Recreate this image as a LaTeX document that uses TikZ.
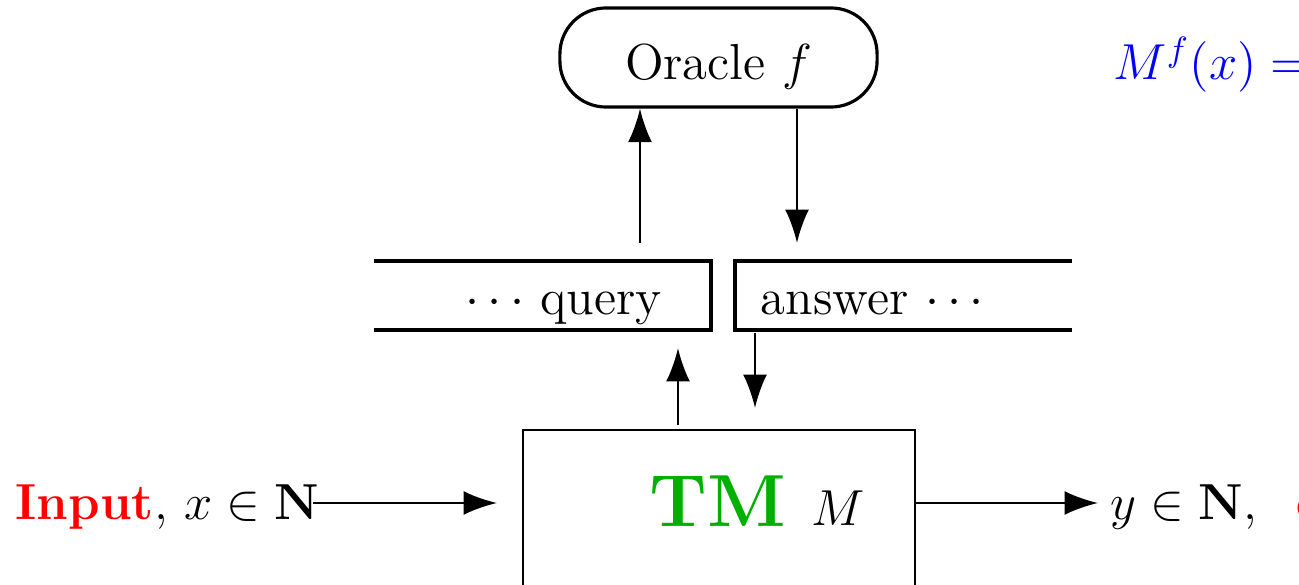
\documentclass[tikz,border=0pt]{standalone}
\usetikzlibrary{arrows.meta}
\definecolor{tmgreen}{RGB}{0,176,0}
\definecolor{inred}{RGB}{255,0,0}
\definecolor{eqblue}{RGB}{0,0,255}
\tikzset{
  arr/.style={line width=0.7pt, -{Latex[length=9.5pt,width=6.8pt]}},
  tape/.style={line width=1.1pt},
  lbl/.style={inner sep=0pt, anchor=base, font=\Large},
  lblw/.style={inner sep=0pt, anchor=base west, font=\Large},
}
\begin{document}
\begin{tikzpicture}[x=0.01cm,y=-0.01cm]
\useasboundingbox (0,0) rectangle (1299,585);
\clip (0,0) rectangle (1299,585);

% oracle
\node[draw, line width=0.9pt, rounded corners=0.46cm, minimum width=3.17cm,
      minimum height=0.99cm, inner sep=0pt, font=\Large, text height=12.6pt, text depth=0pt]
  (oracle) at (718.5,57.5) {Oracle $f$};

% the two tape halves
\draw[tape] (374,261) -- (711,261) -- (711,330) -- (374,330);
\draw[tape] (1072,261) -- (735,261) -- (735,330) -- (1072,330);
\node[lbl] (query) at (563.5,315) {$\cdots$ query};
\node[lbl] (answer) at (872.5,315) {answer $\cdots$};

% the machine
\node[draw, line width=0.6pt, minimum width=3.92cm, minimum height=1.75cm, inner sep=0pt]
  (tm) at (719,517.5) {};
\node[inner sep=0pt, anchor=base, font=\fontsize{21}{25}\selectfont\bfseries, text=tmgreen]
  (tmlabel) at (718,527) {TM};
\node[lblw] (tmsub) at (811,525) {$M$};

% input and output
\node[lblw] (input) at (15,520) {\textcolor{inred}{\textbf{Input}}, $x\in\mathbf{N}$};
\node[lblw] (output) at (1110,520) {$y\in\mathbf{N}$,\hspace{0.78em}\textcolor{inred}{\textbf{output}}};
\node[lblw, text=eqblue] (eq) at (1113,80) {$M^f(x) = y$};

\coordinate (inStart) at (313,503);
\coordinate (inEnd) at (497,503);
\coordinate (outEnd) at (1098,503);
\coordinate (qUp) at (640,243);
\coordinate (aDown) at (797,243);
\coordinate (tmUpTip) at (678,348);
\coordinate (tmUpStart) at (678,425);
\coordinate (tapeDown) at (755,333);
\coordinate (tmDownTip) at (755,408);

\draw[arr] (inStart) -- (inEnd);
\draw[arr] (tm.east |- inEnd) -- (outEnd);
\draw[arr] (qUp) -- (qUp |- oracle.south);
\draw[arr] (oracle.south -| aDown) -- (aDown);
\draw[arr] (tmUpStart) -- (tmUpTip);
\draw[arr] (tapeDown) -- (tmDownTip);
\end{tikzpicture}
\end{document}
